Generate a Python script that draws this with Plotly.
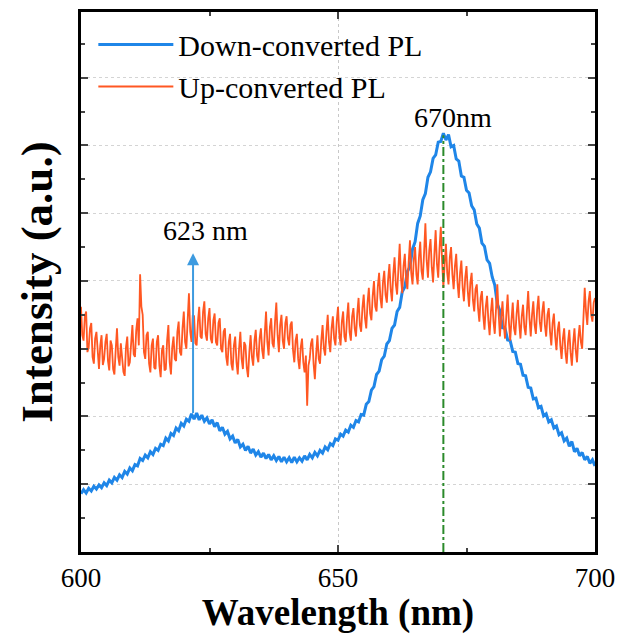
import plotly.graph_objects as go

# wavelength grids of the two spectra (nm)
down_wavelength = [600 + 0.5 * i for i in range(201)]
up_wavelength = [600 + 0.25 * i for i in range(401)]

# Down-converted PL, arbitrary units (one major grid step = 1)
down_pl = [
    0.86, 0.92, 0.87, 0.94, 0.90, 0.97, 0.93, 0.99, 0.95, 1.02,
    0.98, 1.06, 1.02, 1.10, 1.06, 1.14, 1.10, 1.19, 1.15, 1.24,
    1.20, 1.29, 1.27, 1.38, 1.35, 1.43, 1.39, 1.48, 1.44, 1.53,
    1.50, 1.59, 1.57, 1.68, 1.64, 1.75, 1.72, 1.83, 1.79, 1.90,
    1.86, 1.96, 1.93, 2.04, 1.96, 2.05, 1.95, 2.02, 1.93, 1.98,
    1.89, 1.95, 1.85, 1.91, 1.79, 1.84, 1.74, 1.78, 1.67, 1.71,
    1.61, 1.66, 1.55, 1.59, 1.50, 1.56, 1.46, 1.52, 1.43, 1.48,
    1.40, 1.46, 1.38, 1.44, 1.36, 1.42, 1.35, 1.41, 1.33, 1.40,
    1.33, 1.39, 1.32, 1.40, 1.33, 1.39, 1.34, 1.42, 1.36, 1.44,
    1.39, 1.47, 1.42, 1.50, 1.46, 1.55, 1.51, 1.60, 1.57, 1.67,
    1.65, 1.74, 1.71, 1.80, 1.77, 1.87, 1.84, 1.94, 1.92, 2.03,
    2.02, 2.18, 2.22, 2.39, 2.44, 2.62, 2.67, 2.84, 2.89, 3.07,
    3.12, 3.30, 3.35, 3.55, 3.61, 3.84, 3.91, 4.14, 4.21, 4.47,
    4.58, 4.85, 4.96, 5.20, 5.29, 5.53, 5.61, 5.81, 5.86, 6.05,
    6.06, 6.18, 6.08, 6.16, 5.98, 6.00, 5.80, 5.77, 5.55, 5.53,
    5.34, 5.30, 5.11, 5.05, 4.84, 4.78, 4.56, 4.51, 4.31, 4.26,
    4.06, 3.94, 3.66, 3.56, 3.31, 3.30, 3.13, 3.12, 2.96, 2.95,
    2.78, 2.77, 2.61, 2.60, 2.43, 2.42, 2.26, 2.27, 2.13, 2.15,
    2.01, 2.04, 1.92, 1.95, 1.83, 1.86, 1.73, 1.76, 1.64, 1.68,
    1.56, 1.63, 1.48, 1.53, 1.42, 1.47, 1.36, 1.41, 1.31, 1.36,
    1.27,
]

# Up-converted PL, same units, one row per 5 nm
up_pl = [
    3.62, 3.20, 3.12, 3.48, 3.55, 2.95, 3.02, 3.30, 3.38, 2.88, 2.78, 3.15, 3.25, 2.92, 2.70, 3.05, 3.20, 2.76, 2.85, 3.10,
    3.22, 2.82, 2.68, 3.12, 3.05, 2.70, 2.62, 2.98, 3.30, 2.88, 2.75, 3.08, 2.90, 2.66, 2.60, 3.02, 3.18, 2.74, 2.80, 3.12,
    3.35, 2.92, 2.88, 3.28, 3.45, 3.05, 4.10, 3.62, 3.50, 2.95, 2.85, 3.20, 3.25, 2.78, 2.65, 3.05, 3.15, 2.72, 2.70, 3.10,
    3.20, 2.75, 2.58, 2.98, 3.05, 2.68, 2.70, 3.12, 3.35, 2.80, 2.62, 3.02, 3.18, 2.85, 2.82, 3.25, 3.40, 2.95, 2.90, 3.30,
    3.55, 3.10, 3.00, 3.42, 3.82, 3.25, 3.10, 3.50, 3.48, 3.08, 3.05, 3.40, 3.62, 3.18, 3.15, 3.55, 3.70, 3.22, 3.12, 3.45,
    3.60, 3.15, 3.08, 3.42, 3.52, 3.10, 3.05, 3.38, 3.45, 3.00, 2.95, 3.25, 3.30, 2.88, 2.75, 3.10, 3.22, 2.78, 2.68, 3.05,
    3.18, 2.80, 2.62, 3.00, 3.25, 2.85, 2.70, 3.10, 3.05, 2.72, 2.58, 2.95, 3.20, 2.88, 2.75, 3.12, 3.28, 2.90, 2.80, 3.15,
    3.30, 2.98, 2.85, 3.22, 3.55, 3.10, 2.90, 3.32, 3.45, 3.08, 3.02, 3.40, 3.68, 3.20, 2.95, 3.35, 3.50, 3.12, 3.00, 3.38,
    3.48, 3.15, 3.05, 3.35, 3.40, 2.98, 2.80, 3.12, 3.22, 2.85, 2.70, 3.02, 3.15, 2.80, 2.65, 2.90, 2.16, 2.75, 2.85, 3.08,
    3.15, 2.78, 2.55, 2.92, 3.20, 2.85, 2.78, 3.12, 3.35, 3.00, 2.90, 3.25, 3.50, 3.10, 2.95, 3.30, 3.48, 3.15, 3.05, 3.40,
    3.62, 3.22, 3.05, 3.40, 3.55, 3.18, 3.10, 3.45, 3.68, 3.25, 3.12, 3.48, 3.60, 3.30, 3.18, 3.52, 3.75, 3.35, 3.25, 3.60,
    3.80, 3.45, 3.30, 3.68, 3.90, 3.52, 3.42, 3.78, 4.00, 3.62, 3.55, 3.92, 4.12, 3.75, 3.60, 3.98, 4.15, 3.80, 3.68, 4.02,
    4.25, 3.88, 3.70, 4.10, 4.35, 3.95, 3.80, 4.18, 4.55, 4.05, 3.82, 4.22, 4.40, 4.00, 3.88, 4.28, 4.60, 4.12, 3.95, 4.32,
    4.50, 4.10, 3.95, 4.35, 4.58, 4.15, 4.02, 4.42, 4.85, 4.30, 4.05, 4.45, 4.62, 4.20, 3.98, 4.40, 4.75, 4.25, 4.05, 4.48,
    4.80, 4.30, 3.90, 4.25, 4.55, 4.12, 3.95, 4.35, 4.50, 4.10, 3.88, 4.22, 4.40, 3.98, 3.75, 4.12, 4.30, 3.90, 3.70, 4.05,
    4.22, 3.85, 3.62, 3.98, 4.12, 3.72, 3.55, 3.88, 3.95, 3.60, 3.40, 3.75, 3.85, 3.50, 3.28, 3.62, 3.78, 3.42, 3.20, 3.55,
    3.75, 3.40, 3.22, 3.60, 3.95, 3.52, 3.18, 3.45, 3.70, 3.35, 3.15, 3.50, 3.80, 3.40, 3.12, 3.42, 3.68, 3.30, 3.20, 3.52,
    3.72, 3.38, 3.15, 3.48, 3.65, 3.32, 3.20, 3.55, 3.85, 3.45, 3.18, 3.50, 3.70, 3.35, 3.22, 3.58, 3.78, 3.40, 3.25, 3.55,
    3.70, 3.35, 3.18, 3.50, 3.60, 3.25, 3.05, 3.38, 3.52, 3.18, 2.98, 3.28, 3.40, 3.05, 2.85, 3.15, 3.30, 2.95, 2.78, 3.10,
    3.28, 2.95, 2.75, 3.08, 3.30, 2.98, 2.80, 3.15, 3.35, 3.10, 3.00, 3.45, 3.90, 3.55, 3.35, 3.70, 3.85, 3.50, 3.40, 3.68,
    3.75,
]

x_ticks = [600, 650, 700]

# peak markers
peak1_x, peak1_base, peak1_top = 621.8, 2.03, 4.41
peak2_x, peak2_top = 670.5, 6.15

BLUE = "#1f86e8"
ORANGE = "#ff5722"
FONT = "Liberation Serif, Times New Roman, serif"

fig = go.Figure()

fig.add_trace(go.Scatter(
    x=down_wavelength, y=down_pl, mode="lines", name="Down-converted PL",
    line=dict(color=BLUE, width=3),
))
fig.add_trace(go.Scatter(
    x=up_wavelength, y=up_pl, mode="lines", name="Up-converted PL",
    line=dict(color=ORANGE, width=1.8),
))

# 670 nm dash-dot marker line
fig.add_trace(go.Scatter(
    x=[peak2_x, peak2_x], y=[0, peak2_top], mode="lines", showlegend=False,
    line=dict(color="#2b8a2b", width=2, dash="dashdot"),
))

# 623 nm arrow
fig.add_annotation(
    x=peak1_x, y=peak1_top, ax=peak1_x, ay=peak1_base,
    xref="x", yref="y", axref="x", ayref="y",
    text="", showarrow=True, arrowhead=2, arrowsize=1.2,
    arrowwidth=2, arrowcolor="#3d9be0",
)
fig.add_annotation(
    x=624.2, y=4.74, xref="x", yref="y", text="623 nm", showarrow=False,
    font=dict(family=FONT, size=28, color="black"),
)
fig.add_annotation(
    x=672.3, y=6.42, xref="x", yref="y", text="670nm", showarrow=False,
    font=dict(family=FONT, size=28, color="black"),
)

# the page body adds an 8 px margin, so the figure is sized to fit inside it
fig.update_layout(
    width=608, height=626,
    margin=dict(l=73, r=18, t=1, b=82),
    plot_bgcolor="white", paper_bgcolor="white",
    font=dict(family=FONT, color="black"),
    legend=dict(
        x=0.024, y=0.988, xanchor="left", yanchor="top",
        bgcolor="rgba(0,0,0,0)", font=dict(family=FONT, size=30),
        itemwidth=75, tracegroupgap=0,
    ),
    xaxis=dict(
        range=[600, 700], tickvals=x_ticks, ticks="inside", ticklen=7, tickwidth=2,
        minor=dict(dtick=25, ticks="inside", ticklen=4, tickwidth=2, showgrid=False),
        showline=True, linecolor="black", linewidth=2.5, mirror="ticks",
        showgrid=True, gridcolor="#c8c8c8", griddash="dot", gridwidth=1,
        zeroline=False, ticklabeloverflow="allow",
        tickfont=dict(family=FONT, size=27),
        title=dict(text="<b>Wavelength (nm)</b>", font=dict(family=FONT, size=37), standoff=9),
    ),
    yaxis=dict(
        range=[0, 7.97], dtick=1, showticklabels=False,
        ticks="inside", ticklen=7, tickwidth=2,
        minor=dict(dtick=0.5, ticks="inside", ticklen=4, tickwidth=2, showgrid=False),
        showline=True, linecolor="black", linewidth=2.5, mirror="ticks",
        showgrid=True, gridcolor="#d4d4d4", griddash="dot", gridwidth=1,
        zeroline=False,
        title=dict(text="<b>Intensity (a.u.)</b>", font=dict(family=FONT, size=45), standoff=12),
    ),
)

fig.write_html("out.html")
